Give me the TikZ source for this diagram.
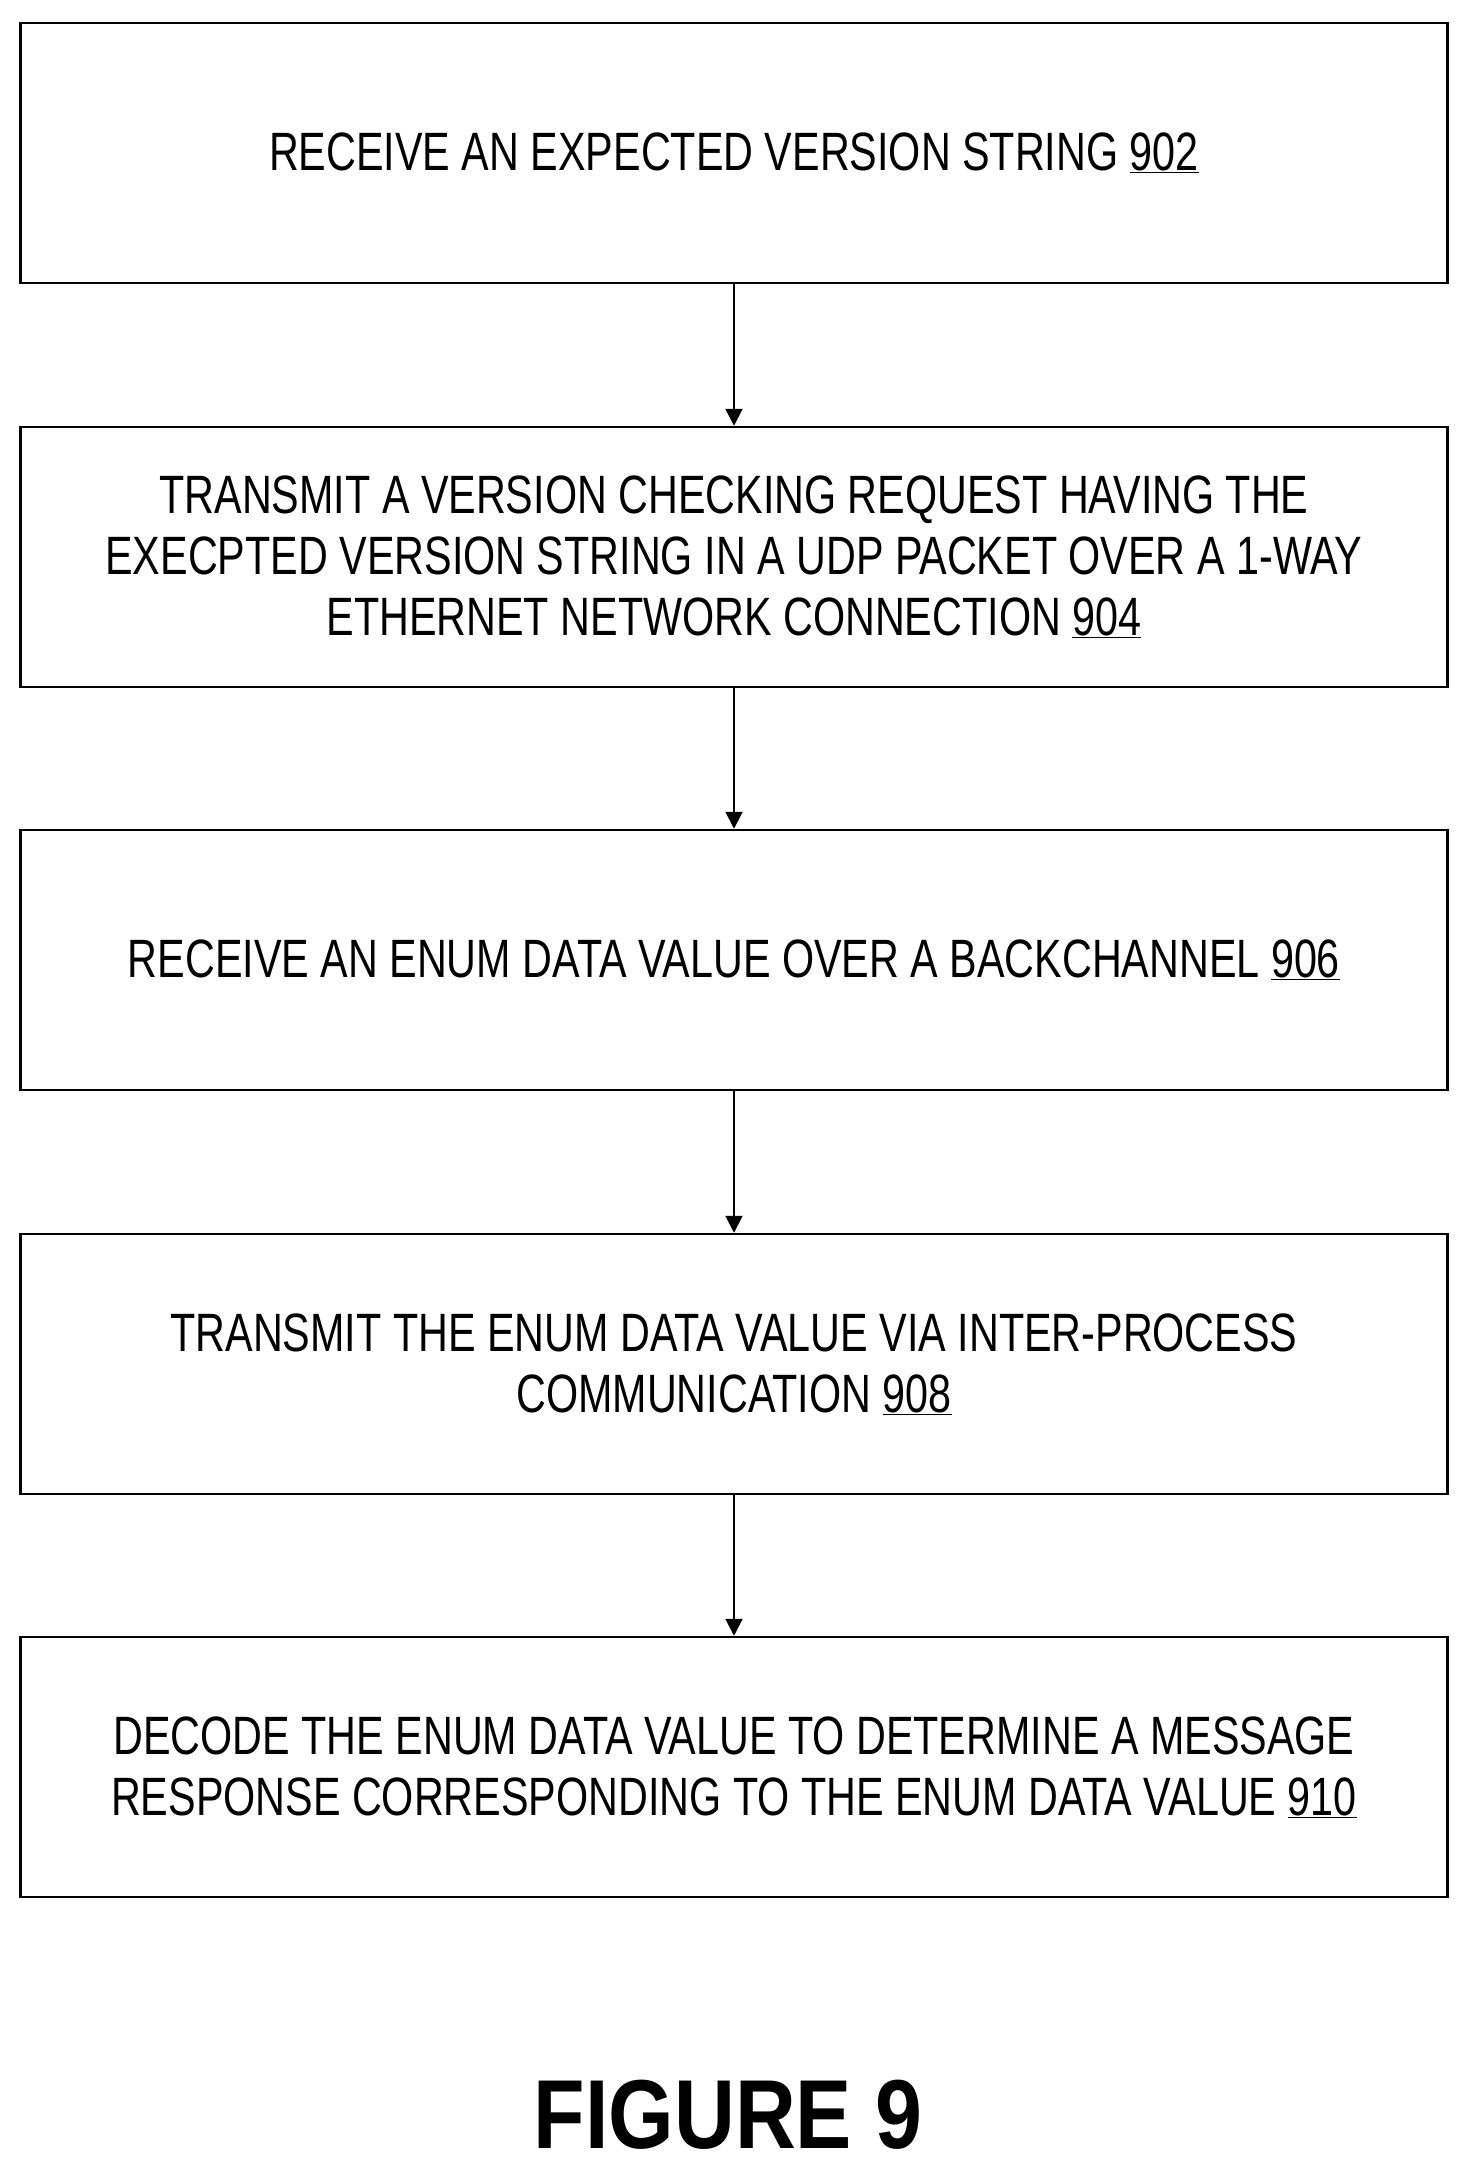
\documentclass[tikz,border=0pt]{standalone}
\usepackage{fontspec}
\setmainfont[FakeStretch=0.765]{Liberation Sans}
\newfontfamily\figfont[FakeStretch=0.86]{Liberation Sans}
\usetikzlibrary{arrows.meta}
\begin{document}
\begin{tikzpicture}[x=1pt,y=-1pt,
  stepbox/.style={draw,line width=2.5pt,minimum width=1427pt,minimum height=260pt,align=center,font=\fontsize{54}{61}\selectfont,inner sep=0pt},
  arr/.style={line width=2pt,-{Triangle[width=17pt,length=17pt]}}]
\useasboundingbox (0,0) rectangle (1467,2177);
\node[stepbox] (a) at (734,153) {RECEIVE AN EXPECTED VERSION STRING \underline{902}};
\node[stepbox] (b) at (734,557) {TRANSMIT A VERSION CHECKING REQUEST HAVING THE\\EXECPTED VERSION STRING IN A UDP PACKET OVER A 1-WAY\\ETHERNET NETWORK CONNECTION \underline{904}};
\node[stepbox] (c) at (734,960) {RECEIVE AN ENUM DATA VALUE OVER A BACKCHANNEL \underline{906}};
\node[stepbox] (d) at (734,1364) {TRANSMIT THE ENUM DATA VALUE VIA INTER-PROCESS\\COMMUNICATION \underline{908}};
\node[stepbox] (e) at (734,1767) {DECODE THE ENUM DATA VALUE TO DETERMINE A MESSAGE\\RESPONSE CORRESPONDING TO THE ENUM DATA VALUE \underline{910}};
\draw[arr] (a) -- (b);
\draw[arr] (b) -- (c);
\draw[arr] (c) -- (d);
\draw[arr] (d) -- (e);
\node[font=\figfont\fontsize{98}{100}\bfseries\selectfont] (f) at (728,2115) {FIGURE 9};
\end{tikzpicture}
\end{document}
